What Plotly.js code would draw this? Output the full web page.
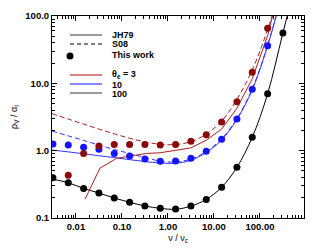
<!DOCTYPE html>
<html>
<head>
<meta charset="utf-8">
<script src="https://cdn.plot.ly/plotly-3.0.1.min.js"></script>
<style>html,body{margin:0;padding:0;background:#fff;}#chart{width:319px;height:251px;}</style>
</head>
<body>
<div id="chart"></div>
<script>
// frequency grid of the dots (nu / nu_c)
const nuDots = [0.00316, 0.00681, 0.0147, 0.0316, 0.0681, 0.147, 0.316, 0.681, 1.47, 3.16, 6.81, 14.7, 31.6, 68.1, 147, 316];
// "This work" points
const dots100 = [0.397, 0.334, 0.275, 0.235, 0.198, 0.171, 0.151, 0.139, 0.136, 0.151, 0.189, 0.286, 0.566, 1.58, 7.0, 56];
const nuDots3 = [0.00681, 0.0147, 0.0316, 0.0681, 0.147, 0.316, 0.681, 1.47, 3.16, 6.81, 14.7, 31.6, 68.1, 147];
const dots3 = [0.43, 0.91, 1.17, 1.24, 1.24, 1.23, 1.21, 1.24, 1.38, 1.73, 2.67, 5.33, 14.6, 65.6];
const nuDots10 = [0.00316, 0.00681, 0.0147, 0.0316, 0.0681, 0.147, 0.316, 0.681, 1.47, 3.16, 6.81, 14.7, 31.6, 68.1, 147];
const dots10 = [1.26, 1.21, 1.12, 1.05, 0.91, 0.83, 0.75, 0.695, 0.70, 0.77, 0.977, 1.48, 2.95, 8.15, 36.2];

// curves
const nuLine = [0.003, 0.00681, 0.0147, 0.0316, 0.0681, 0.147, 0.316, 0.681, 1.47, 3.16, 6.81, 14.7, 31.6, 68.1, 147, 316, 681];
const jh100 = [0.38, 0.334, 0.275, 0.235, 0.198, 0.171, 0.151, 0.139, 0.135, 0.150, 0.189, 0.286, 0.566, 1.58, 7.0, 56, 450];
const nuLine10 = [0.003, 0.00681, 0.0147, 0.0316, 0.0681, 0.147, 0.316, 0.681, 1.47, 3.16, 6.81, 14.7, 31.6, 68.1, 147, 316];
const jh10 = [1.02, 0.96, 0.90, 0.84, 0.79, 0.735, 0.69, 0.656, 0.65, 0.72, 0.94, 1.44, 2.9, 8.0, 36, 233];
const s10 = [1.96, 1.66, 1.42, 1.21, 1.04, 0.91, 0.79, 0.70, 0.68, 0.75, 0.97, 1.5, 3.0, 8.3, 37, 240];
const nuJh3 = [0.0158, 0.0333, 0.077, 0.166, 0.346, 0.673, 1.47, 3.16, 6.81, 14.7, 31.6, 68.1, 147, 316];
const jh3 = [0.19, 0.55, 0.77, 0.84, 0.91, 0.93, 1.0, 1.10, 1.43, 2.09, 4.27, 11.7, 51, 417];
const s3 = [3.55, 2.95, 2.48, 2.09, 1.78, 1.53, 1.35, 1.245, 1.23, 1.36, 1.76, 2.76, 5.8, 15.8, 63, 355];

const RED_L = '#a81e1e', RED_D = '#8b0a0a', BLUE_L = '#3333ff', BLUE_D = '#1414ff';

const traces = [
  {x: nuLine, y: jh100, mode: 'lines', line: {color: '#000', width: 1, shape: 'spline'}},
  {x: nuLine10, y: jh10, mode: 'lines', line: {color: BLUE_L, width: 1, shape: 'spline'}},
  {x: nuLine10, y: s10, mode: 'lines', line: {color: BLUE_L, width: 1, dash: '5px,3px', shape: 'spline'}},
  {x: nuJh3, y: jh3, mode: 'lines', line: {color: RED_L, width: 1}},
  {x: nuLine10, y: s3, mode: 'lines', line: {color: RED_L, width: 1, dash: '5px,3px', shape: 'spline'}},
  {x: nuDots, y: dots100, mode: 'markers', marker: {color: '#000', size: 7}},
  {x: nuDots10, y: dots10, mode: 'markers', marker: {color: BLUE_D, size: 7}},
  {x: nuDots3, y: dots3, mode: 'markers', marker: {color: RED_D, size: 7}}
].map(t => Object.assign(t, {showlegend: false, hoverinfo: 'skip', cliponaxis: true}));

const tickFont = {family: 'Liberation Sans, Arial, sans-serif', size: 9.5, color: '#000', weight: 'bold'};
const legFont = {family: 'Liberation Sans, Arial, sans-serif', size: 9, color: '#000', weight: 'bold'};
const titleFont = {family: 'Liberation Sans, Arial, sans-serif', size: 9, color: '#000'};

// legend built manually (paper coordinates)
const px = v => (v - 52) / 252, py = v => (218 - v) / 202;
const legLines = [
  {y: 35, color: '#777', dash: 'solid', w: 1.5},
  {y: 44, color: '#000', dash: '4px,3px', w: 1},
  {y: 75, color: '#c03030', dash: 'solid', w: 1.2},
  {y: 84, color: '#3a3aff', dash: 'solid', w: 1.2},
  {y: 93, color: '#777', dash: 'solid', w: 1.5}
];
const shapes = legLines.map(l => ({type: 'line', xref: 'paper', yref: 'paper',
  x0: px(70), x1: px(102), y0: py(l.y), y1: py(l.y), line: {color: l.color, width: l.w, dash: l.dash}}));
shapes.push({type: 'circle', xref: 'paper', yref: 'paper', xsizemode: 'pixel', ysizemode: 'pixel',
  xanchor: px(70), yanchor: py(56), x0: -3.5, x1: 3.5, y0: -3.5, y1: 3.5, fillcolor: '#000', line: {width: 0}});
const legTexts = [
  {y: 35, t: 'JH79'}, {y: 44, t: 'S08'}, {y: 55, t: 'This work'},
  {y: 74, t: 'θ<sub>e</sub> = 3'}, {y: 85, t: '10'}, {y: 94, t: '100'}
];
const annotations = legTexts.map(a => ({xref: 'paper', yref: 'paper', x: px(111), y: py(a.y),
  xanchor: 'left', yanchor: 'middle', showarrow: false, text: a.t, font: legFont, borderpad: 0}));

const layout = {
  width: 319, height: 251,
  margin: {l: 52, r: 15, t: 16, b: 33},
  paper_bgcolor: '#fff', plot_bgcolor: '#fff',
  showlegend: false,
  xaxis: {type: 'log', range: [-2.52, 2.958], dtick: 1, tick0: 0, tickformat: '.2f',
    ticks: 'inside', ticklen: 5, tickcolor: '#000', tickwidth: 1,
    minor: {ticks: 'inside', ticklen: 3, tickcolor: '#000', dtick: 'D1', showgrid: false},
    showline: true, linecolor: '#000', linewidth: 1, mirror: 'ticks', showgrid: false, zeroline: false,
    tickfont: tickFont,
    title: {text: 'ν / ν<sub>c</sub>', font: titleFont, standoff: 3}},
  yaxis: {type: 'log', range: [-1, 2], dtick: 1, tick0: 0, tickformat: '.1f',
    ticks: 'inside', ticklen: 5, tickcolor: '#000', tickwidth: 1,
    minor: {ticks: 'inside', ticklen: 3, tickcolor: '#000', dtick: 'D1', showgrid: false},
    showline: true, linecolor: '#000', linewidth: 1, mirror: 'ticks', showgrid: false, zeroline: false,
    tickfont: tickFont,
    title: {text: 'ρ<sub>V</sub> / α<sub>I</sub>', font: titleFont, standoff: 6}},
  shapes: shapes,
  annotations: annotations
};

Plotly.newPlot('chart', traces, layout, {staticPlot: true, displayModeBar: false});
</script>
</body>
</html>
